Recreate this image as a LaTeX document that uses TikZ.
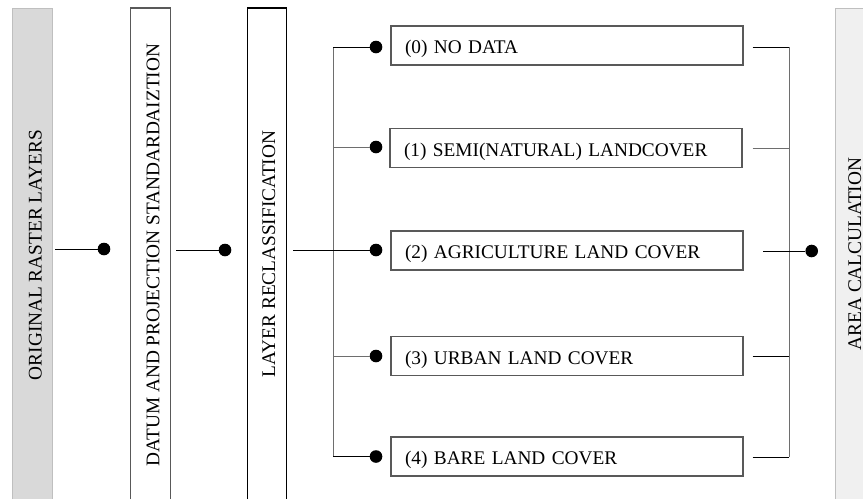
\documentclass[tikz,border=0pt]{standalone}
\usepackage{fontspec}
\setmainfont{Liberation Serif}
\definecolor{barA}{HTML}{D9D9D9}
\definecolor{barB}{HTML}{F0F0F0}
\definecolor{edgeL}{HTML}{BFBFBF}
\definecolor{boxedge}{HTML}{595959}
\definecolor{trunk}{HTML}{6E6E6E}
\begin{document}
\begin{tikzpicture}[x=1pt,y=-1pt,
  every node/.style={font=\fontsize{19.3}{23}\selectfont},
  vtext/.style={rotate=90,anchor=base,inner sep=0pt},
  catbox/.style={draw=boxedge,line width=1.2pt,minimum width=352pt,minimum height=39pt,
    text width=324pt,inner xsep=14pt,align=left,text height=17pt,text depth=1pt},
  dot/.style={circle,fill=black,inner sep=0pt,minimum size=12.6pt},
  link/.style={line width=1pt,black},
  tlink/.style={line width=1pt,trunk}]
\useasboundingbox (0,0) rectangle (863,499);
\fill[white] (0,0) rectangle (863,499);
% bars (open at the bottom)
\fill[barA] (12.5,8) rectangle (52.5,499);
\draw[edgeL,line width=1pt] (12.5,499) -- (12.5,8) -- (52.5,8) -- (52.5,499);
\draw[boxedge,line width=1.2pt] (130.5,499) -- (130.5,8) -- (170.3,8) -- (170.3,499);
\draw[black,line width=1.2pt] (247.3,499) -- (247.3,8) -- (286.7,8) -- (286.7,499);
\fill[barB] (835,8) rectangle (870,499);
\draw[edgeL,line width=1pt] (835,499) -- (835,8) -- (870,8);
% bar texts
\node[vtext] (t1) at (41.7,255) {ORIGINAL RASTER LAYERS};
\node[vtext] (t2) at (159.3,255) {DATUM AND PROJECTION STANDARDAIZTION};
\node[vtext] (t3) at (275,254) {LAYER RECLASSIFICATION};
\node[vtext] (t4) at (861,254) {AREA CALCULATION};
% category boxes
\node[catbox] (c0) at (567,45.5) {(0) NO DATA};
\node[catbox,minimum width=350pt] (c1) at (566,148) {(1) SEMI(NATURAL) LANDCOVER};
\node[catbox] (c2) at (567,250.5) {(2) AGRICULTURE LAND COVER};
\node[catbox] (c3) at (567,356) {(3) URBAN LAND COVER};
\node[catbox] (c4) at (567,456.5) {(4) BARE LAND COVER};
% first connectors
\coordinate (o1) at (55,249);
\node[dot] (d1) at (104,249) {};
\draw[link] (o1) -- (d1);
\coordinate (o2) at (176,250);
\node[dot] (d2) at (225,250) {};
\draw[link] (o2) -- (d2);
% split trunk
\coordinate (o3) at (293,250);
\coordinate (s0) at (333,47);
\coordinate (s4) at (333,456.5);
\draw[tlink] (s0) -- (s4);
\draw[link] (o3) -- (333,250);
\node[dot] (e0) at (376,47) {};
\node[dot] (e1) at (376,147) {};
\node[dot] (e2) at (376,250) {};
\node[dot] (e3) at (376,356) {};
\node[dot] (e4) at (376,456.5) {};
\draw[link] (s0) -- (e0);
\draw[tlink] (333,147) -- (e1);
\draw[link] (333,250) -- (e2);
\draw[tlink] (333,356) -- (e3);
\draw[link] (s4) -- (e4);
% merge trunk
\coordinate (m0) at (789,47);
\coordinate (m4) at (789,457);
\draw[tlink] (m0) -- (m4);
\draw[link] (752.5,47) -- (m0);
\draw[tlink] (752.5,148) -- (789,148);
\draw[link] (752.5,356) -- (789,356);
\draw[link] (752.5,457) -- (m4);
\coordinate (r2) at (763,251);
\node[dot] (f2) at (811.7,251) {};
\draw[link] (r2) -- (f2);
\end{tikzpicture}
\end{document}
